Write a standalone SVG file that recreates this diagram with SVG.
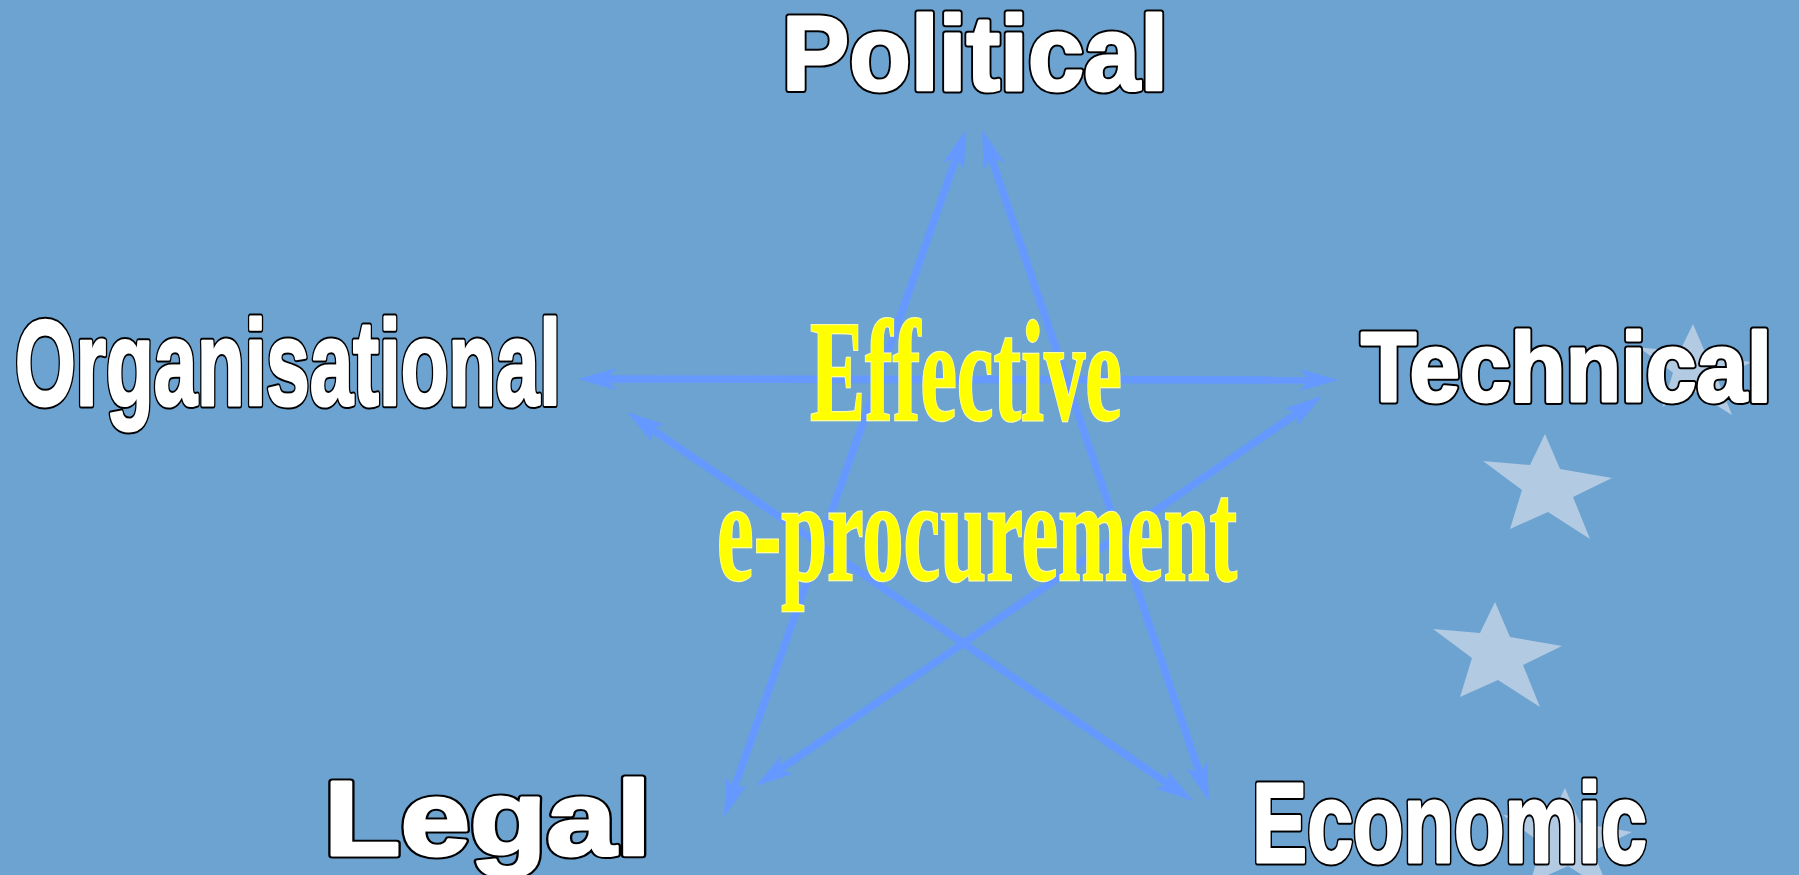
<svg xmlns="http://www.w3.org/2000/svg" xmlns:xlink="http://www.w3.org/1999/xlink" width="1799" height="875" viewBox="0 0 1799 875">
  <style>
    .label { font-family: "Liberation Sans", Arial, sans-serif; font-weight: bold; }
    .label .edge { fill: #000000; stroke: #000000; stroke-width: 7; stroke-linejoin: round; }
    .label .face { fill: #ffffff; stroke: #ffffff; stroke-width: 3; stroke-linejoin: round; }
    .core { font-family: "Liberation Serif", "Times New Roman", serif; font-weight: bold; fill: #ffff00; stroke: #ffff99; stroke-width: 2.5; paint-order: stroke fill; }
    .link { stroke: #6699ff; stroke-width: 7.5; fill: none; marker-start: url(#head); marker-end: url(#head); }
    .star { fill: #b3cae3; }
  </style>
  <defs>
    <marker id="head" viewBox="-20 -12 42 24" markerWidth="42" markerHeight="24" refX="0" refY="0" markerUnits="userSpaceOnUse" orient="auto-start-reverse" overflow="visible">
      <path d="M20,0 L-18,-11 L-9,0 L-18,11 Z" fill="#6699ff"/>
    </marker>
    <polygon id="starShape" points="0,0 15,35 67,44 28,63 45,105 3,78 -35,95 -23,56 -62,27 -15,31"/>
    <text id="tPolitical" x="782" y="90" font-size="106" textLength="386" lengthAdjust="spacingAndGlyphs">Political</text>
    <text id="tOrganisational" x="15" y="405" font-size="121" textLength="546" lengthAdjust="spacingAndGlyphs">Organisational</text>
    <text id="tTechnical" x="1361" y="401" font-size="98" textLength="411" lengthAdjust="spacingAndGlyphs">Technical</text>
    <text id="tLegal" x="324" y="855" font-size="105" textLength="327" lengthAdjust="spacingAndGlyphs">Legal</text>
    <text id="tEconomic" x="1252" y="862" font-size="114" textLength="395" lengthAdjust="spacingAndGlyphs">Economic</text>
  </defs>

  <!-- background -->
  <rect x="0" y="0" width="1799" height="875" fill="#6ca3d1"/>

  <!-- faint flag stars -->
  <g id="stars" class="star">
    <use xlink:href="#starShape" transform="translate(1693,324) scale(0.87)"/>
    <use xlink:href="#starShape" transform="translate(1545,434)"/>
    <use xlink:href="#starShape" transform="translate(1495,602)"/>
    <use xlink:href="#starShape" transform="translate(1565,788)"/>
  </g>

  <!-- pentagram of double-headed arrows -->
  <g id="connectors">
    <line class="link" x1="959.36" y1="148.86" x2="730.64" y2="798.14"/>
    <line class="link" x1="988.41" y1="148.94" x2="1202.59" y2="782.06"/>
    <line class="link" x1="598" y1="379" x2="1318" y2="380"/>
    <line class="link" x1="643.48" y1="423.33" x2="1176.52" y2="789.67"/>
    <line class="link" x1="1305.53" y1="407.35" x2="772.47" y2="774.65"/>
  </g>

  <!-- centre -->
  <g id="centre">
    <text class="core" x="810" y="420" font-size="145" textLength="312" lengthAdjust="spacingAndGlyphs">Effective</text>
    <text class="core" x="717" y="580" font-size="145" textLength="520" lengthAdjust="spacingAndGlyphs">e-procurement</text>
  </g>

  <!-- dimensions: black outline layer under a white face -->
  <g id="political" class="label">
    <use xlink:href="#tPolitical" class="edge"/>
    <use xlink:href="#tPolitical" class="face"/>
  </g>
  <g id="organisational" class="label">
    <use xlink:href="#tOrganisational" class="edge"/>
    <use xlink:href="#tOrganisational" class="face"/>
  </g>
  <g id="technical" class="label">
    <use xlink:href="#tTechnical" class="edge"/>
    <use xlink:href="#tTechnical" class="face"/>
  </g>
  <g id="legal" class="label">
    <use xlink:href="#tLegal" class="edge"/>
    <use xlink:href="#tLegal" class="face"/>
  </g>
  <g id="economic" class="label">
    <use xlink:href="#tEconomic" class="edge"/>
    <use xlink:href="#tEconomic" class="face"/>
  </g>
</svg>
